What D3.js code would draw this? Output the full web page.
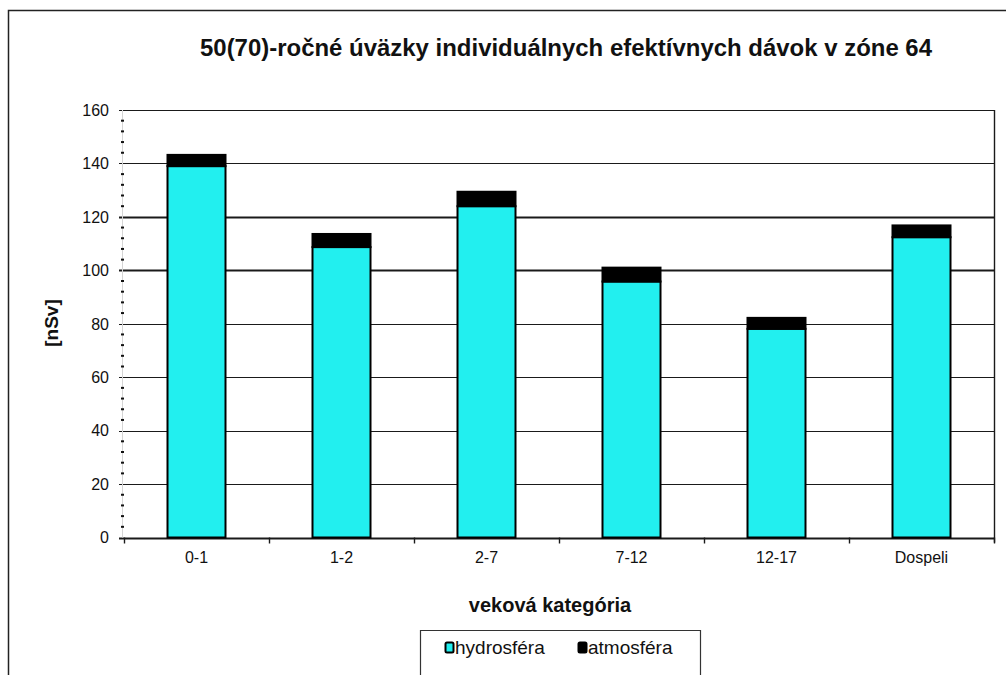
<!DOCTYPE html>
<html>
<head>
<meta charset="utf-8">
<script src="https://cdn.jsdelivr.net/npm/d3@7/dist/d3.min.js"></script>
<style>
  html, body { margin: 0; padding: 0; background: #ffffff; }
  svg { display: block; }
  text { font-family: "Liberation Sans", Arial, sans-serif; fill: #111; }
</style>
</head>
<body>
<svg id="chart" width="1006" height="675"></svg>
<script>
// Age groups and committed effective doses [nSv] by pathway
const categories = ["0-1", "1-2", "2-7", "7-12", "12-17", "Dospeli"];
const hydrosfera = [139.0, 108.7, 124.0, 95.8, 78.1, 112.4];
const atmosfera  = [4.2, 4.9, 5.4, 5.2, 4.1, 4.4];
const yTicks = [0, 20, 40, 60, 80, 100, 120, 140, 160];
const seriesNames = ["hydrosféra", "atmosféra"];

const titleText = "50(70)-ročné úväzky individuálnych efektívnych dávok v zóne 64";
const xTitle = "veková kategória";
const yTitle = "[nSv]";

const colors = { hydro: "#22efef", atmo: "#000000" };

const svg = d3.select("#chart");
const W = 1006, H = 675;

// plot area
const plotLeft = 124, plotRight = 994, plotTop = 110, plotBottom = 537.5;

const x = d3.scaleBand().domain(categories).range([plotLeft, plotRight])
  .paddingInner(0.6).paddingOuter(0.3);
const y = d3.scaleLinear().domain([0, 160]).range([plotBottom, plotTop]);

// outer frame
svg.append("rect").attr("x", 0).attr("y", 0).attr("width", W).attr("height", H).attr("fill", "#fff");
svg.append("path")
  .attr("d", `M8.5,${H} L8.5,10.5 L${W},10.5`)
  .attr("fill", "none").attr("stroke", "#222").attr("stroke-width", 1.5);

// title
svg.append("text")
  .attr("x", 200).attr("y", 56)
  .attr("font-size", 23).attr("font-weight", "bold")
  .attr("textLength", 732).attr("lengthAdjust", "spacingAndGlyphs")
  .text(titleText);

// horizontal gridlines (extend left as major ticks)
svg.append("g").selectAll("line").data(yTicks).join("line")
  .attr("x1", plotLeft - 5).attr("x2", plotRight)
  .attr("y1", d => Math.round(y(d)) + 0.5).attr("y2", d => Math.round(y(d)) + 0.5)
  .attr("stroke", "#1a1a1a")
  .attr("stroke-width", d => (d === 0 || d === 100 || d === 120) ? 2.2 : 1.2);

// plot right border
svg.append("line")
  .attr("x1", plotRight + 0.5).attr("x2", plotRight + 0.5)
  .attr("y1", plotTop).attr("y2", plotBottom + 5)
  .attr("stroke", "#1a1a1a").attr("stroke-width", 1.4);

// y axis: faint line with minor ticks every 4 units
svg.append("line")
  .attr("x1", plotLeft - 1.5).attr("x2", plotLeft - 1.5)
  .attr("y1", plotTop).attr("y2", plotBottom)
  .attr("stroke", "#d5d5d5").attr("stroke-width", 1);
svg.append("g").selectAll("line").data(d3.range(0, 161, 4).filter(v => v % 20 !== 0)).join("line")
  .attr("x1", plotLeft - 3).attr("x2", plotLeft)
  .attr("y1", d => y(d)).attr("y2", d => y(d))
  .attr("stroke", "#111").attr("stroke-width", 2);

// y tick labels
svg.append("g").selectAll("text").data(yTicks).join("text")
  .attr("x", 109).attr("y", d => y(d))
  .attr("dy", "0.36em")
  .attr("text-anchor", "end")
  .attr("font-size", 16)
  .text(d => d);

// x axis ticks at category boundaries
const step = x.step();
const boundaries = d3.range(categories.length + 1).map(i => x(categories[0]) - x.paddingOuter() * step + i * step);
svg.append("g").selectAll("line").data(boundaries).join("line")
  .attr("x1", d => Math.round(d) + 0.5).attr("x2", d => Math.round(d) + 0.5)
  .attr("y1", plotBottom).attr("y2", plotBottom + 6)
  .attr("stroke", "#1a1a1a").attr("stroke-width", 1.4);

// stacked bars
const stacked = categories.map((c, i) => ({ c, h: hydrosfera[i], a: atmosfera[i] }));
const bars = svg.append("g");
bars.selectAll("rect.hydro").data(stacked).join("rect")
  .attr("class", "hydro")
  .attr("x", d => x(d.c)).attr("width", x.bandwidth())
  .attr("y", d => y(d.h)).attr("height", d => y(0) - y(d.h))
  .attr("fill", colors.hydro).attr("stroke", "#000").attr("stroke-width", 2);
bars.selectAll("rect.atmo").data(stacked).join("rect")
  .attr("class", "atmo")
  .attr("x", d => x(d.c)).attr("width", x.bandwidth())
  .attr("y", d => y(d.h + d.a)).attr("height", d => y(d.h) - y(d.h + d.a))
  .attr("fill", colors.atmo).attr("stroke", "#000").attr("stroke-width", 2);

// x tick labels
svg.append("g").selectAll("text").data(categories).join("text")
  .attr("x", d => x(d) + x.bandwidth() / 2).attr("y", 563)
  .attr("text-anchor", "middle")
  .attr("font-size", 16)
  .text(d => d);

// axis titles
svg.append("text")
  .attr("x", 550).attr("y", 612)
  .attr("text-anchor", "middle")
  .attr("font-size", 20).attr("font-weight", "bold")
  .text(xTitle);
svg.append("text")
  .attr("transform", "translate(58,323) rotate(-90)")
  .attr("text-anchor", "middle")
  .attr("font-size", 19).attr("font-weight", "bold")
  .text(yTitle);

// legend
const lg = svg.append("g");
lg.append("path")
  .attr("d", `M420.5,${H} L420.5,630.5 L700.5,630.5 L700.5,${H}`)
  .attr("fill", "#fff").attr("stroke", "#333").attr("stroke-width", 1.2);
const legendItems = [
  { name: seriesNames[0], color: colors.hydro, x: 445 },
  { name: seriesNames[1], color: colors.atmo, x: 578 }
];
const li = lg.selectAll("g.item").data(legendItems).join("g")
  .attr("class", "item")
  .attr("transform", d => `translate(${d.x},0)`);
li.append("rect")
  .attr("x", 0.5).attr("y", 642.5).attr("width", 8).attr("height", 10)
  .attr("rx", 1.5)
  .attr("fill", d => d.color).attr("stroke", "#000").attr("stroke-width", 2);
li.append("text")
  .attr("x", 10).attr("y", 654)
  .attr("font-size", 19)
  .text(d => d.name);
</script>
</body>
</html>
